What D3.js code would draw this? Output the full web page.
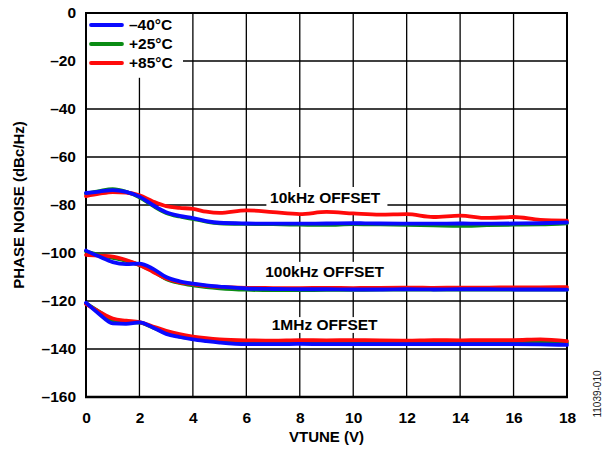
<!DOCTYPE html>
<html>
<head>
<meta charset="utf-8">
<script src="https://cdn.jsdelivr.net/npm/d3@7/dist/d3.min.js"></script>
<style>
  html, body { margin: 0; padding: 0; background: #fff; }
  svg { display: block; font-family: Arial, "Liberation Sans", Helvetica, sans-serif; }
</style>
</head>
<body>
<svg id="chart" width="609" height="453"></svg>
<script>
// Tuning voltage samples (V)
const vtune = [0, 0.5, 1, 1.5, 2, 2.5, 3, 3.5, 4, 4.5, 5, 6, 7, 8, 9, 10, 11, 12, 13, 14, 15, 16, 17, 18];

// Phase noise (dBc/Hz) at 10 kHz offset
const pn10k_m40 = [-75, -74.4, -73.8, -74.5, -76.5, -80, -83, -84.5, -85.5, -86.7, -87.4, -87.7, -87.8, -87.8, -87.7, -87.6, -87.7, -87.8, -87.8, -87.7, -87.8, -87.7, -87.6, -87.3];
const pn10k_p25 = [-75.3, -74.2, -73.4, -74.5, -76.8, -80.3, -83.3, -84.8, -85.8, -86.9, -87.6, -87.9, -88, -88.2, -88.3, -88, -88.1, -88.3, -88.5, -88.7, -88.4, -88.2, -88.1, -87.6];
const pn10k_p85 = [-76.3, -75.3, -74.6, -74.8, -76, -78.5, -80.5, -81.2, -81.6, -82.8, -83.3, -82.2, -83, -83.8, -82.9, -83.5, -84, -83.8, -85, -84.4, -85.4, -85, -86.2, -86.5];

// Phase noise (dBc/Hz) at 100 kHz offset
const pn100k_m40 = [-99, -101.5, -103.8, -104.6, -104.4, -106.5, -110, -111.8, -112.8, -113.5, -114, -114.8, -115, -115.1, -115.1, -115.2, -115.2, -115.1, -115.2, -115.1, -115.1, -115.2, -115.2, -115.3];
const pn100k_p25 = [-99.3, -100.8, -102, -103.3, -105, -107.5, -110.8, -112.5, -113.5, -114.2, -114.7, -115.3, -115.5, -115.5, -115.4, -115.4, -115.3, -115.3, -115.2, -115.3, -115.2, -115.3, -115.2, -115.2];
const pn100k_p85 = [-100.8, -101.1, -101.5, -102.9, -105, -107.8, -110.6, -112.2, -113, -113.7, -114.1, -114.5, -114.6, -114.6, -114.5, -114.6, -114.5, -114.4, -114.5, -114.4, -114.4, -114.3, -114.3, -114.2];

// Phase noise (dBc/Hz) at 1 MHz offset
const pn1m_m40 = [-120.7, -125.5, -129.3, -129.5, -128.9, -131, -133.7, -135, -136, -136.7, -137.3, -138, -138, -137.9, -138, -138, -138, -138, -138, -138, -138, -138, -138.1, -138.3];
const pn1m_p25 = [-121, -124.5, -128, -128.8, -129, -131, -133.3, -134.8, -135.6, -136.3, -136.9, -137.4, -137.5, -137.3, -137.4, -137.4, -137.3, -137.4, -137.5, -137.5, -137.4, -137.4, -137.2, -137.5];
const pn1m_p85 = [-121.3, -124.5, -127.3, -128.2, -128.8, -130.6, -132.4, -133.8, -134.8, -135.5, -136, -136.4, -136.5, -136.3, -136.4, -136.3, -136.4, -136.5, -136.3, -136.4, -136.3, -136.3, -136, -136.7];

// Temperatures, legend order
const temps = ["\u201340\u00B0C", "+25\u00B0C", "+85\u00B0C"];
const tempColors = ["#0a0aff", "#0a8c14", "#ff0a0a"];

// Axis ticks
const xTicks = [0, 2, 4, 6, 8, 10, 12, 14, 16, 18];
const yTicks = [0, -20, -40, -60, -80, -100, -120, -140, -160];

// Offset curve labels
const offsetLabels = ["10kHz OFFSET", "100kHz OFFSET", "1MHz OFFSET"];

const margin = { left: 86, right: 42, top: 13, bottom: 56 };
const W = 609, H = 453;
const svg = d3.select("#chart");

const x = d3.scaleLinear().domain([0, 18]).range([margin.left, W - margin.right]);
const y = d3.scaleLinear().domain([-160, 0]).range([H - margin.bottom, margin.top]);

const fmt = d => d < 0 ? "\u2013" + Math.abs(d) : String(d);

// Grid
const grid = svg.append("g").attr("stroke", "#000").attr("stroke-width", 1.3);
grid.selectAll("line.v").data(xTicks.slice(1, -1)).join("line")
  .attr("x1", d => x(d)).attr("x2", d => x(d))
  .attr("y1", y(0)).attr("y2", y(-160));
grid.selectAll("line.h").data(yTicks.slice(1, -1)).join("line")
  .attr("x1", x(0)).attr("x2", x(18))
  .attr("y1", d => y(d)).attr("y2", d => y(d));

// White panels behind legend and offset labels
const panels = [
  { x0: 0, x1: 3.63, y0: 0, y1: -27 },
  { x0: 6.75, x1: 11.28, y0: -72.5, y1: -83.4 },
  { x0: 6.63, x1: 11.28, y0: -103.7, y1: -116.2 },
  { x0: 6.9, x1: 11.0, y0: -126.7, y1: -133.3 }
];
svg.append("g").selectAll("rect").data(panels).join("rect")
  .attr("x", d => x(d.x0)).attr("y", d => y(d.y0))
  .attr("width", d => x(d.x1) - x(d.x0)).attr("height", d => y(d.y1) - y(d.y0))
  .attr("fill", "#fff");

// Frame
svg.append("rect")
  .attr("x", x(0)).attr("y", y(0))
  .attr("width", x(18) - x(0)).attr("height", y(-160) - y(0))
  .attr("fill", "none").attr("stroke", "#000").attr("stroke-width", 2);
svg.append("line")
  .attr("x1", x(0) - 1).attr("x2", x(18) + 1)
  .attr("y1", y(-160)).attr("y2", y(-160))
  .attr("stroke", "#000").attr("stroke-width", 2.6);

// Axes (labels only)
const xAxis = svg.append("g")
  .attr("transform", `translate(0,${y(-160)})`)
  .call(d3.axisBottom(x).tickValues(xTicks).tickSize(0).tickPadding(15).tickFormat(fmt));
const yAxis = svg.append("g")
  .attr("transform", `translate(${x(0)},0)`)
  .call(d3.axisLeft(y).tickValues(yTicks).tickSize(0).tickPadding(10).tickFormat(fmt));
[xAxis, yAxis].forEach(a => {
  a.select(".domain").remove();
  a.selectAll("text").attr("font-family", "Arial, 'Liberation Sans', sans-serif")
    .attr("font-size", 15.5).attr("font-weight", "bold").attr("fill", "#000");
});

// Curves
const line = d3.line()
  .x((d, i) => x(vtune[i]))
  .y(d => y(d))
  .curve(d3.curveMonotoneX);

const groups = [
  [pn10k_p25, pn10k_p85, pn10k_m40],
  [pn100k_p25, pn100k_p85, pn100k_m40],
  [pn1m_p25, pn1m_p85, pn1m_m40]
];
const colorOrder = [tempColors[1], tempColors[2], tempColors[0]];
groups.forEach(g => {
  g.forEach((series, k) => {
    svg.append("path")
      .attr("d", line(series))
      .attr("fill", "none")
      .attr("stroke", colorOrder[k])
      .attr("stroke-width", 3.8)
      .attr("stroke-linejoin", "round")
      .attr("stroke-linecap", "round");
  });
});

// Offset labels
const labelPos = [
  { v: 8.95, db: -77.3 },
  { v: 8.93, db: -108.2 },
  { v: 8.93, db: -130.4 }
];
svg.append("g").selectAll("text").data(offsetLabels).join("text")
  .attr("x", (d, i) => x(labelPos[i].v))
  .attr("y", (d, i) => y(labelPos[i].db))
  .attr("text-anchor", "middle")
  .attr("dominant-baseline", "middle")
  .attr("font-size", 15.5).attr("font-weight", "bold")
  .text(d => d);

// Legend
const legend = svg.append("g");
temps.forEach((t, i) => {
  const ly = 25 + i * 19;
  legend.append("line")
    .attr("x1", 91).attr("x2", 122).attr("y1", ly).attr("y2", ly)
    .attr("stroke", tempColors[i]).attr("stroke-width", 3.8).attr("stroke-linecap", "round");
  legend.append("text")
    .attr("x", 129).attr("y", ly + 1)
    .attr("dominant-baseline", "middle")
    .attr("font-size", 15.5).attr("font-weight", "bold")
    .text(t);
});

// Axis titles
svg.append("text")
  .attr("x", (x(0) + x(18)) / 2).attr("y", 438)
  .attr("text-anchor", "middle").attr("dominant-baseline", "middle")
  .attr("font-size", 15).attr("font-weight", "bold")
  .text("VTUNE (V)");
svg.append("text")
  .attr("transform", `translate(20,${(y(0) + y(-160)) / 2}) rotate(-90)`)
  .attr("text-anchor", "middle").attr("dominant-baseline", "middle")
  .attr("font-size", 15).attr("font-weight", "bold")
  .text("PHASE NOISE (dBc/Hz)");

// Figure number
svg.append("text")
  .attr("transform", "translate(598,394) rotate(-90)")
  .attr("text-anchor", "middle").attr("dominant-baseline", "middle")
  .attr("font-size", 10).attr("fill", "#222")
  .text("11039-010");
</script>
</body>
</html>
